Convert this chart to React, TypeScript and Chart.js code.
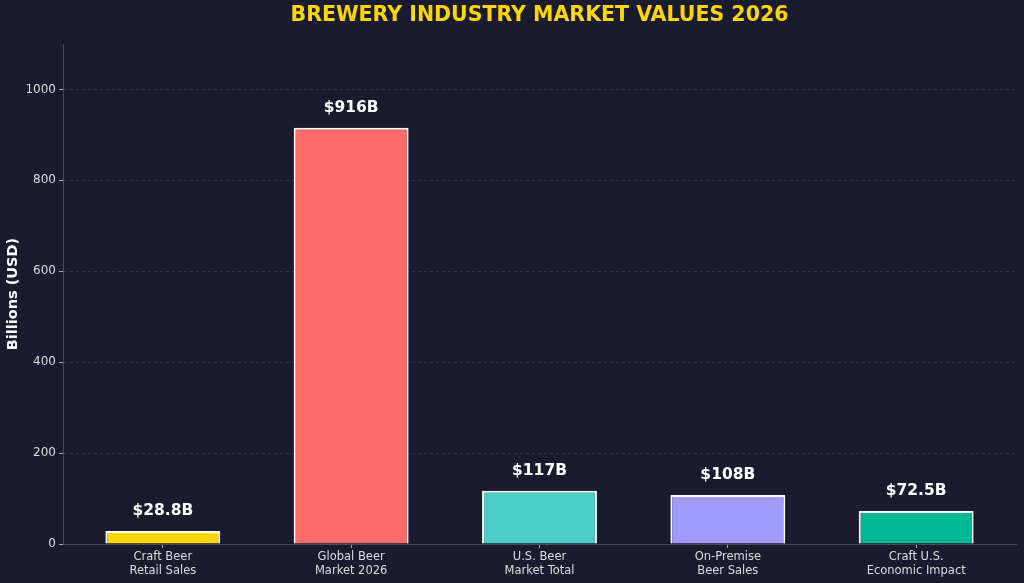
import React, { useEffect, useRef } from "react";
import { Chart, registerables } from "chart.js";

Chart.register(...registerables);

const categories: string[][] = [
  ["Craft Beer", "Retail Sales"],
  ["Global Beer", "Market 2026"],
  ["U.S. Beer", "Market Total"],
  ["On-Premise", "Beer Sales"],
  ["Craft U.S.", "Economic Impact"],
];
const values: number[] = [28.8, 916, 117, 108, 72.5];
const valueLabels: string[] = ["$28.8B", "$916B", "$117B", "$108B", "$72.5B"];
const barColors: string[] = ["#FFD700", "#FF6B6B", "#4ECDC4", "#A29BFE", "#00B894"];
const yTicks: number[] = [0, 200, 400, 600, 800, 1000];

const BG = "#1b1b2f";
const FONT = "'DejaVu Sans', sans-serif";

// Title centred over the plot area, plus value labels above each bar
const overlayPlugin = {
  id: "overlay",
  afterDatasetsDraw(chart: any) {
    const { ctx, chartArea } = chart;
    ctx.save();
    ctx.fillStyle = "#FFD700";
    ctx.font = `bold 20.5px ${FONT}`;
    ctx.textAlign = "center";
    ctx.textBaseline = "middle";
    ctx.fillText("BREWERY INDUSTRY MARKET VALUES 2026", (chartArea.left + chartArea.right) / 2, 16);

    const meta = chart.getDatasetMeta(0);
    ctx.fillStyle = "#ffffff";
    ctx.font = `bold 15.5px ${FONT}`;
    ctx.textBaseline = "middle";
    meta.data.forEach((bar: any, i: number) => {
      ctx.fillText(valueLabels[i], bar.x, bar.y - 20);
    });
    ctx.restore();
  },
};

export default function App() {
  const canvasRef = useRef<HTMLCanvasElement | null>(null);

  useEffect(() => {
    if (!canvasRef.current) return;
    const chart = new Chart(canvasRef.current, {
      type: "bar",
      data: {
        datasets: [
          {
            data: values.map((v, i) => ({ x: i, y: v })),
            backgroundColor: barColors,
            borderColor: "#ffffff",
            borderWidth: 2,
            barPercentage: 0.61,
            categoryPercentage: 1,
          },
        ],
      },
      options: {
        animation: false,
        responsive: false,
        layout: { padding: { top: 44, right: 8, left: 0, bottom: 0 } },
        plugins: {
          legend: { display: false },
          tooltip: { enabled: false },
          title: { display: false },
        },
        scales: {
          x: {
            type: "linear",
            min: -0.53,
            max: 4.53,
            offset: false,
            afterBuildTicks(scale: any) {
              scale.ticks = categories.map((_, i) => ({ value: i }));
            },
            grid: {
              offset: false,
              drawOnChartArea: false,
              drawTicks: true,
              tickLength: 4,
              tickColor: "#aaaaaa",
            },
            border: { display: true, color: "#4a4a5a", width: 1 },
            ticks: {
              color: "#dddddd",
              font: { family: FONT, size: 11.5 },
              padding: 2,
              maxRotation: 0,
              autoSkip: false,
              callback: (value: any) => categories[Math.round(Number(value))] ?? "",
            },
            afterFit(scale: any) {
              scale.height = 39;
            },
          },
          y: {
            min: 0,
            max: 1100,
            afterBuildTicks(scale: any) {
              scale.ticks = yTicks.map((v) => ({ value: v }));
            },
            grid: {
              color: "rgba(255,255,255,0.1)",
              drawTicks: true,
              tickLength: 4,
              tickColor: "#aaaaaa",
              tickBorderDash: [],
            },
            border: { display: true, color: "#4a4a5a", width: 1, dash: [3, 3] },
            ticks: {
              color: "#dddddd",
              font: { family: FONT, size: 12 },
              padding: 3,
              callback: (value: any) => String(value),
            },
            title: {
              display: true,
              text: "Billions (USD)",
              color: "#ffffff",
              font: { family: FONT, size: 14.5, weight: "bold" },
              padding: { top: 5, bottom: 0 },
            },
            afterFit(scale: any) {
              scale.width = 63;
            },
          },
        },
      },
      plugins: [overlayPlugin],
    });
    return () => chart.destroy();
  }, []);

  return (
    <div
      style={{
        position: "fixed",
        left: 0,
        top: 0,
        width: 1024,
        height: 583,
        background: BG,
      }}
    >
      <canvas ref={canvasRef} width={1024} height={583} style={{ display: "block" }} />
    </div>
  );
}
